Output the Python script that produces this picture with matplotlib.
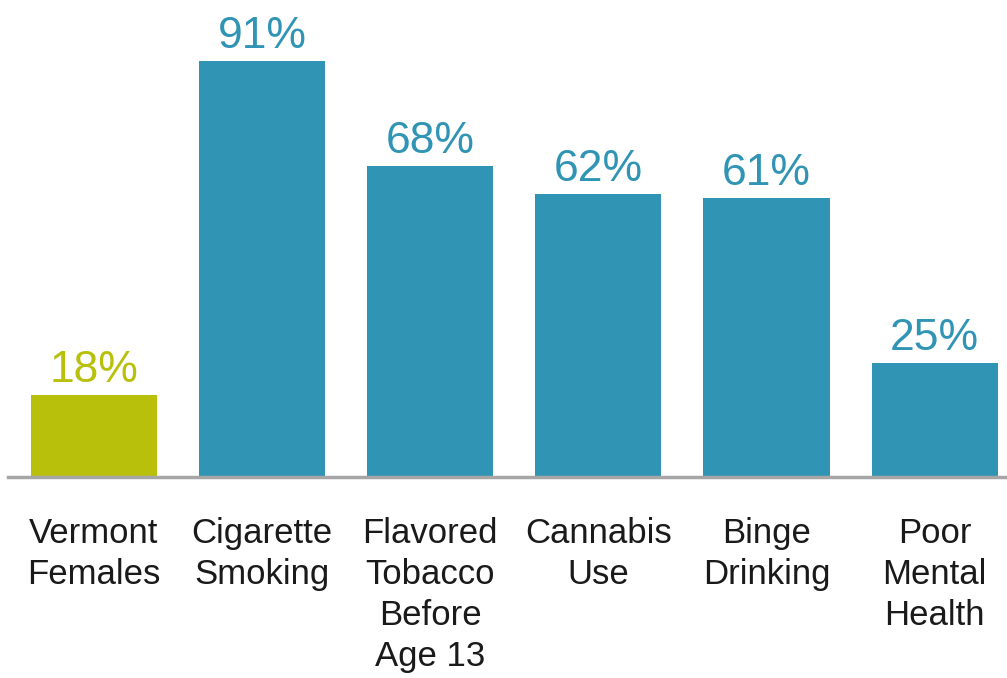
import matplotlib
matplotlib.use("Agg")
import matplotlib.pyplot as plt

# Share of Vermont female students reporting each behaviour
categories = ["Vermont\nFemales", "Cigarette\nSmoking", "Flavored\nTobacco\nBefore\nAge 13",
              "Cannabis\nUse", "Binge\nDrinking", "Poor\nMental\nHealth"]
values = [18, 91, 68, 62, 61, 25]
colors = ["#B8C00C", "#3094B4", "#3094B4", "#3094B4", "#3094B4", "#3094B4"]

plt.rcParams['font.family'] = ['Liberation Sans', 'DejaVu Sans']

fig = plt.figure(figsize=(10.07, 6.78), dpi=100)
ax = fig.add_axes([8 / 1007, 201 / 678, 999 / 1007, 477 / 678])

x = range(len(values))
bars = ax.bar(x, values, width=0.75, color=colors)

for b, v, c in zip(bars, values, colors):
    ax.annotate(f"{v}%", (b.get_x() + b.get_width() / 2, v),
                xytext=(0, 3), textcoords="offset points",
                ha="center", va="bottom", fontsize=32, color=c)

ax.set_xlim(-0.51, 5.43)
ax.set_ylim(0, 104.4)
ax.set_xticks(list(x))
ax.set_xticklabels(categories, fontsize=25, color="#1a1a1a", linespacing=1.3, va="top")
ax.tick_params(axis="x", length=0, pad=29)
ax.set_yticks([])

for side in ["top", "right", "left"]:
    ax.spines[side].set_visible(False)
ax.spines["bottom"].set_color("#A6A6A6")
ax.spines["bottom"].set_linewidth(2.5)

fig.savefig("out.png", dpi=100)
